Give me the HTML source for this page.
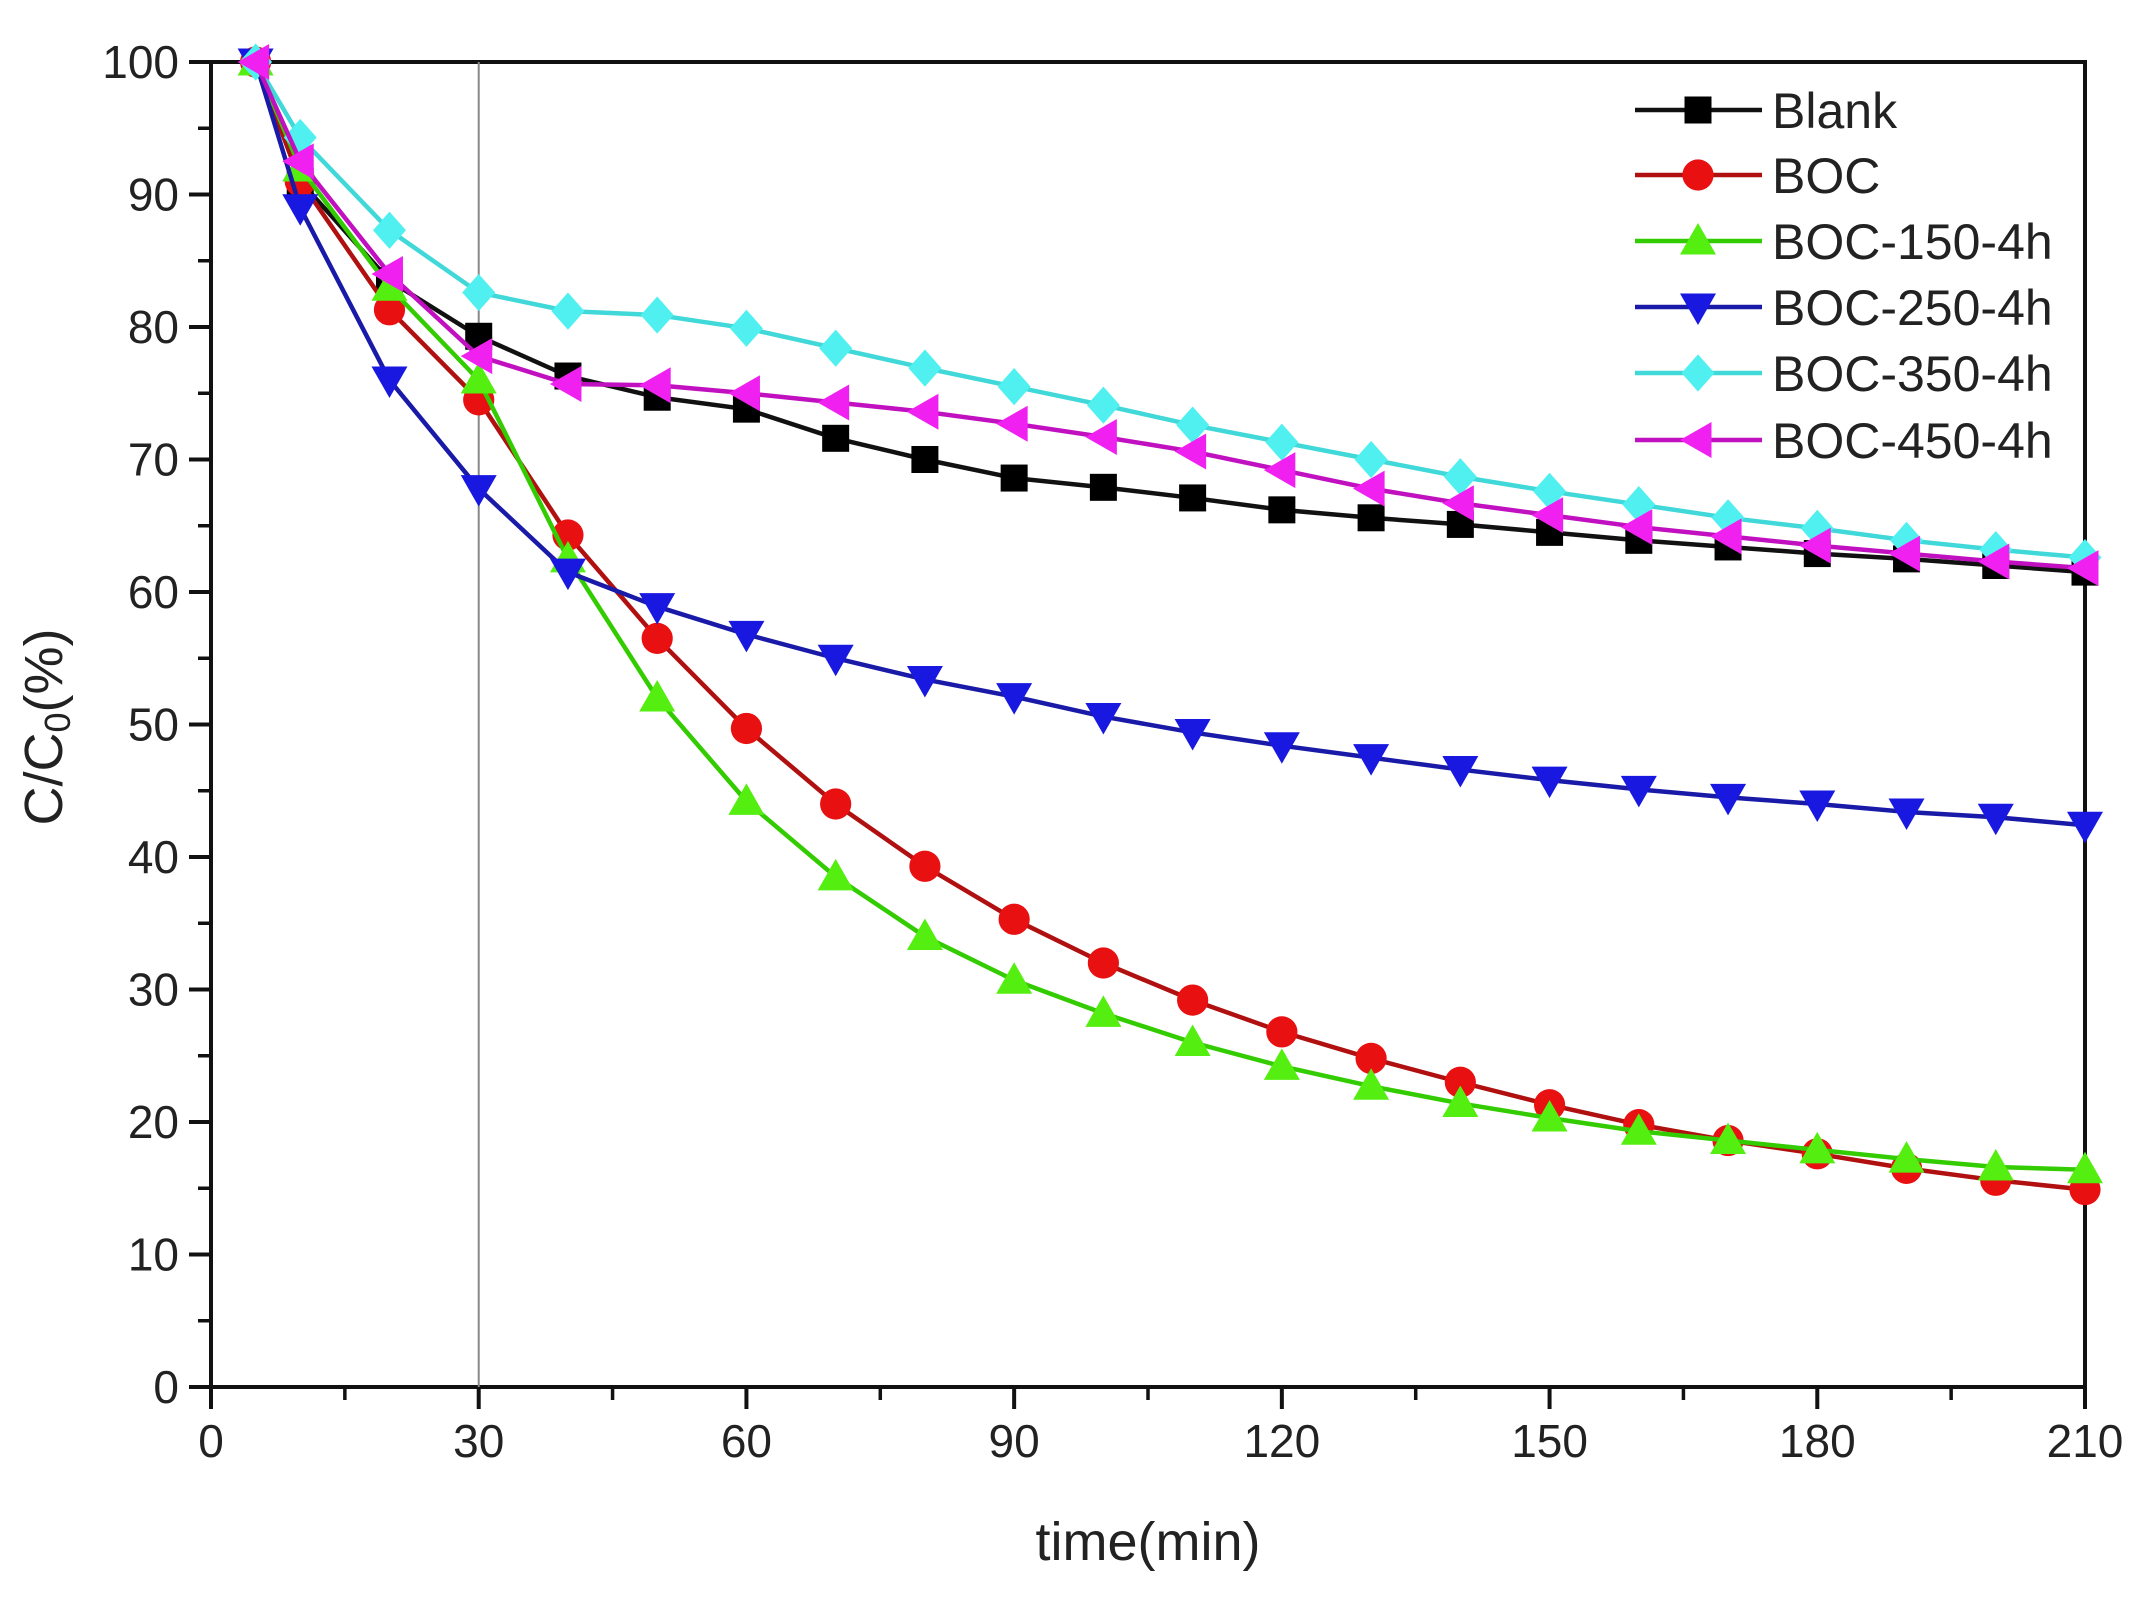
<!DOCTYPE html>
<html><head><meta charset="utf-8"><style>
html,body{margin:0;padding:0;background:#fff}
svg text{font-family:"Liberation Sans",Arial,sans-serif;fill:#222}
</style></head><body>
<svg id="chart" width="2150" height="1593" viewBox="0 0 2150 1593" xmlns="http://www.w3.org/2000/svg">
<g id="plot"></g>
</svg>
<script>
const times=[5,10,20,30,40,50,60,70,80,90,100,110,120,130,140,150,160,170,180,190,200,210];
const blank=[100,91,83.5,79.3,76.3,74.7,73.8,71.6,70,68.6,67.9,67.1,66.2,65.6,65.1,64.5,63.9,63.4,62.9,62.5,62,61.5];
const boc=[100,91,81.3,74.5,64.3,56.5,49.7,44,39.3,35.3,32,29.2,26.8,24.8,23,21.3,19.8,18.6,17.6,16.5,15.6,14.9];
const boc150=[100,92,83,76,62.5,52,44.2,38.5,34,30.7,28.2,26,24.2,22.7,21.4,20.3,19.3,18.6,17.9,17.2,16.6,16.4];
const boc250=[100,89,76,67.8,61.5,58.9,56.8,55,53.4,52.1,50.6,49.4,48.4,47.5,46.6,45.8,45.1,44.5,44,43.4,43,42.4];
const boc350=[100,94.3,87.3,82.6,81.2,80.9,79.9,78.4,76.9,75.5,74.1,72.6,71.3,70,68.7,67.6,66.6,65.6,64.8,63.9,63.2,62.6];
const boc450=[100,92.5,84,77.8,75.7,75.6,75,74.3,73.6,72.7,71.7,70.6,69.2,67.8,66.7,65.8,64.9,64.2,63.5,62.9,62.3,61.8];
const seriesNames=["Blank","BOC","BOC-150-4h","BOC-250-4h","BOC-350-4h","BOC-450-4h"];
const xTicks=[0,30,60,90,120,150,180,210];
const yTicks=[0,10,20,30,40,50,60,70,80,90,100];

const X0=211,X1=2085,Y0=1387,Y1=62;
const xs=v=>X0+(v-0)/(210-0)*(X1-X0);
const ys=v=>Y0-(v-0)/(100-0)*(Y0-Y1);
const NS="http://www.w3.org/2000/svg";
const g=document.getElementById('plot');
function mk(tag,attrs,parent){const e=document.createElementNS(NS,tag);for(const k in attrs)e.setAttribute(k,attrs[k]);(parent||g).appendChild(e);return e;}

let fr=mk('rect',{x:X0,y:Y1,width:X1-X0,height:Y0-Y1,fill:'none',stroke:'#111','stroke-width':4});


let vl=mk('line',{x1:xs(30),x2:xs(30),y1:Y1,y2:Y0,stroke:'#888','stroke-width':2});



for(let i=0;i<xTicks.length;i++){
  const t=xTicks[i];
  let l=mk('line',{x1:xs(t),x2:xs(t),y1:Y0,y2:Y0+22,stroke:'#111','stroke-width':4});
  
  
  let tx=mk('text',{x:xs(t),y:Y0+70,'text-anchor':'middle','font-size':46});
  tx.textContent=t;
  
  
  if(i<xTicks.length-1){
    let m=mk('line',{x1:xs(t+15),x2:xs(t+15),y1:Y0,y2:Y0+13,stroke:'#111','stroke-width':3.5});
    
    
  }
}
for(let i=0;i<yTicks.length;i++){
  const t=yTicks[i];
  let l=mk('line',{x1:X0-22,x2:X0,y1:ys(t),y2:ys(t),stroke:'#111','stroke-width':4});
  
  
  let tx=mk('text',{x:X0-32,y:ys(t)+16,'text-anchor':'end','font-size':46});
  tx.textContent=t;
  
  
  if(i<yTicks.length-1){
    let m=mk('line',{x1:X0-13,x2:X0,y1:ys(t+5),y2:ys(t+5),stroke:'#111','stroke-width':3.5});
    
    
  }
}
let xt=mk('text',{x:(X0+X1)/2,y:1560,'text-anchor':'middle','font-size':54});
xt.textContent='time(min)';


let yt=mk('text',{x:0,y:0,'text-anchor':'middle','font-size':54,transform:'translate(62,727) rotate(-90)'});
yt.innerHTML='C/C<tspan font-size="36" dy="8">0</tspan><tspan dy="-8">(%)</tspan>';



const data=[blank,boc,boc150,boc250,boc350,boc450];
const lineCol=['#111','#b01010','#33cc00','#1a1aa8','#40d8d8','#c010c0'];
const fillCol=['#000','#e81010','#55ee11','#1818e0','#50f0f0','#f020f0'];
const shapes=['square','circle','up','down','diamond','left'];
function marker(shape,cx,cy,s,fill,parent){
  if(shape==='square')return mk('rect',{x:cx-s*0.45,y:cy-s*0.45,width:s*0.9,height:s*0.9,fill:fill},parent);
  if(shape==='circle')return mk('circle',{cx:cx,cy:cy,r:s*0.52,fill:fill},parent);
  let p;
  if(shape==='up')p=[[0,-0.6],[0.6,0.45],[-0.6,0.45]];
  if(shape==='down')p=[[0,0.6],[0.6,-0.45],[-0.6,-0.45]];
  if(shape==='diamond')p=[[0,-0.62],[0.55,0],[0,0.62],[-0.55,0]];
  if(shape==='left')p=[[-0.6,0],[0.45,-0.6],[0.45,0.6]];
  return mk('polygon',{points:p.map(q=>(cx+q[0]*s)+','+(cy+q[1]*s)).join(' '),fill:fill},parent);
}
for(let k=0;k<data.length;k++){
  const sg=mk('g',{});
  
  
  const pts=times.map((t,i)=>xs(t)+','+ys(data[k][i])).join(' ');
  let pl=mk('polyline',{points:pts,fill:'none',stroke:lineCol[k],'stroke-width':4.5},sg);
  
  
  for(let i=0;i<times.length;i++){
    let m=marker(shapes[k],xs(times[i]),ys(data[k][i]),30,fillCol[k],sg);
    
    
  }
}
const lg=mk('g',{});


const legY=[110,175,241,307,373,440];
for(let k=0;k<seriesNames.length;k++){
  const eg=mk('g',{},lg);
  
  
  mk('line',{x1:1635,x2:1762,y1:legY[k],y2:legY[k],stroke:lineCol[k],'stroke-width':4.5},eg);
  marker(shapes[k],1698,legY[k],30,fillCol[k],eg);
  let t=mk('text',{x:1772,y:legY[k]+18,'font-size':50},eg);
  t.textContent=seriesNames[k];
}
</script>
</body></html>
